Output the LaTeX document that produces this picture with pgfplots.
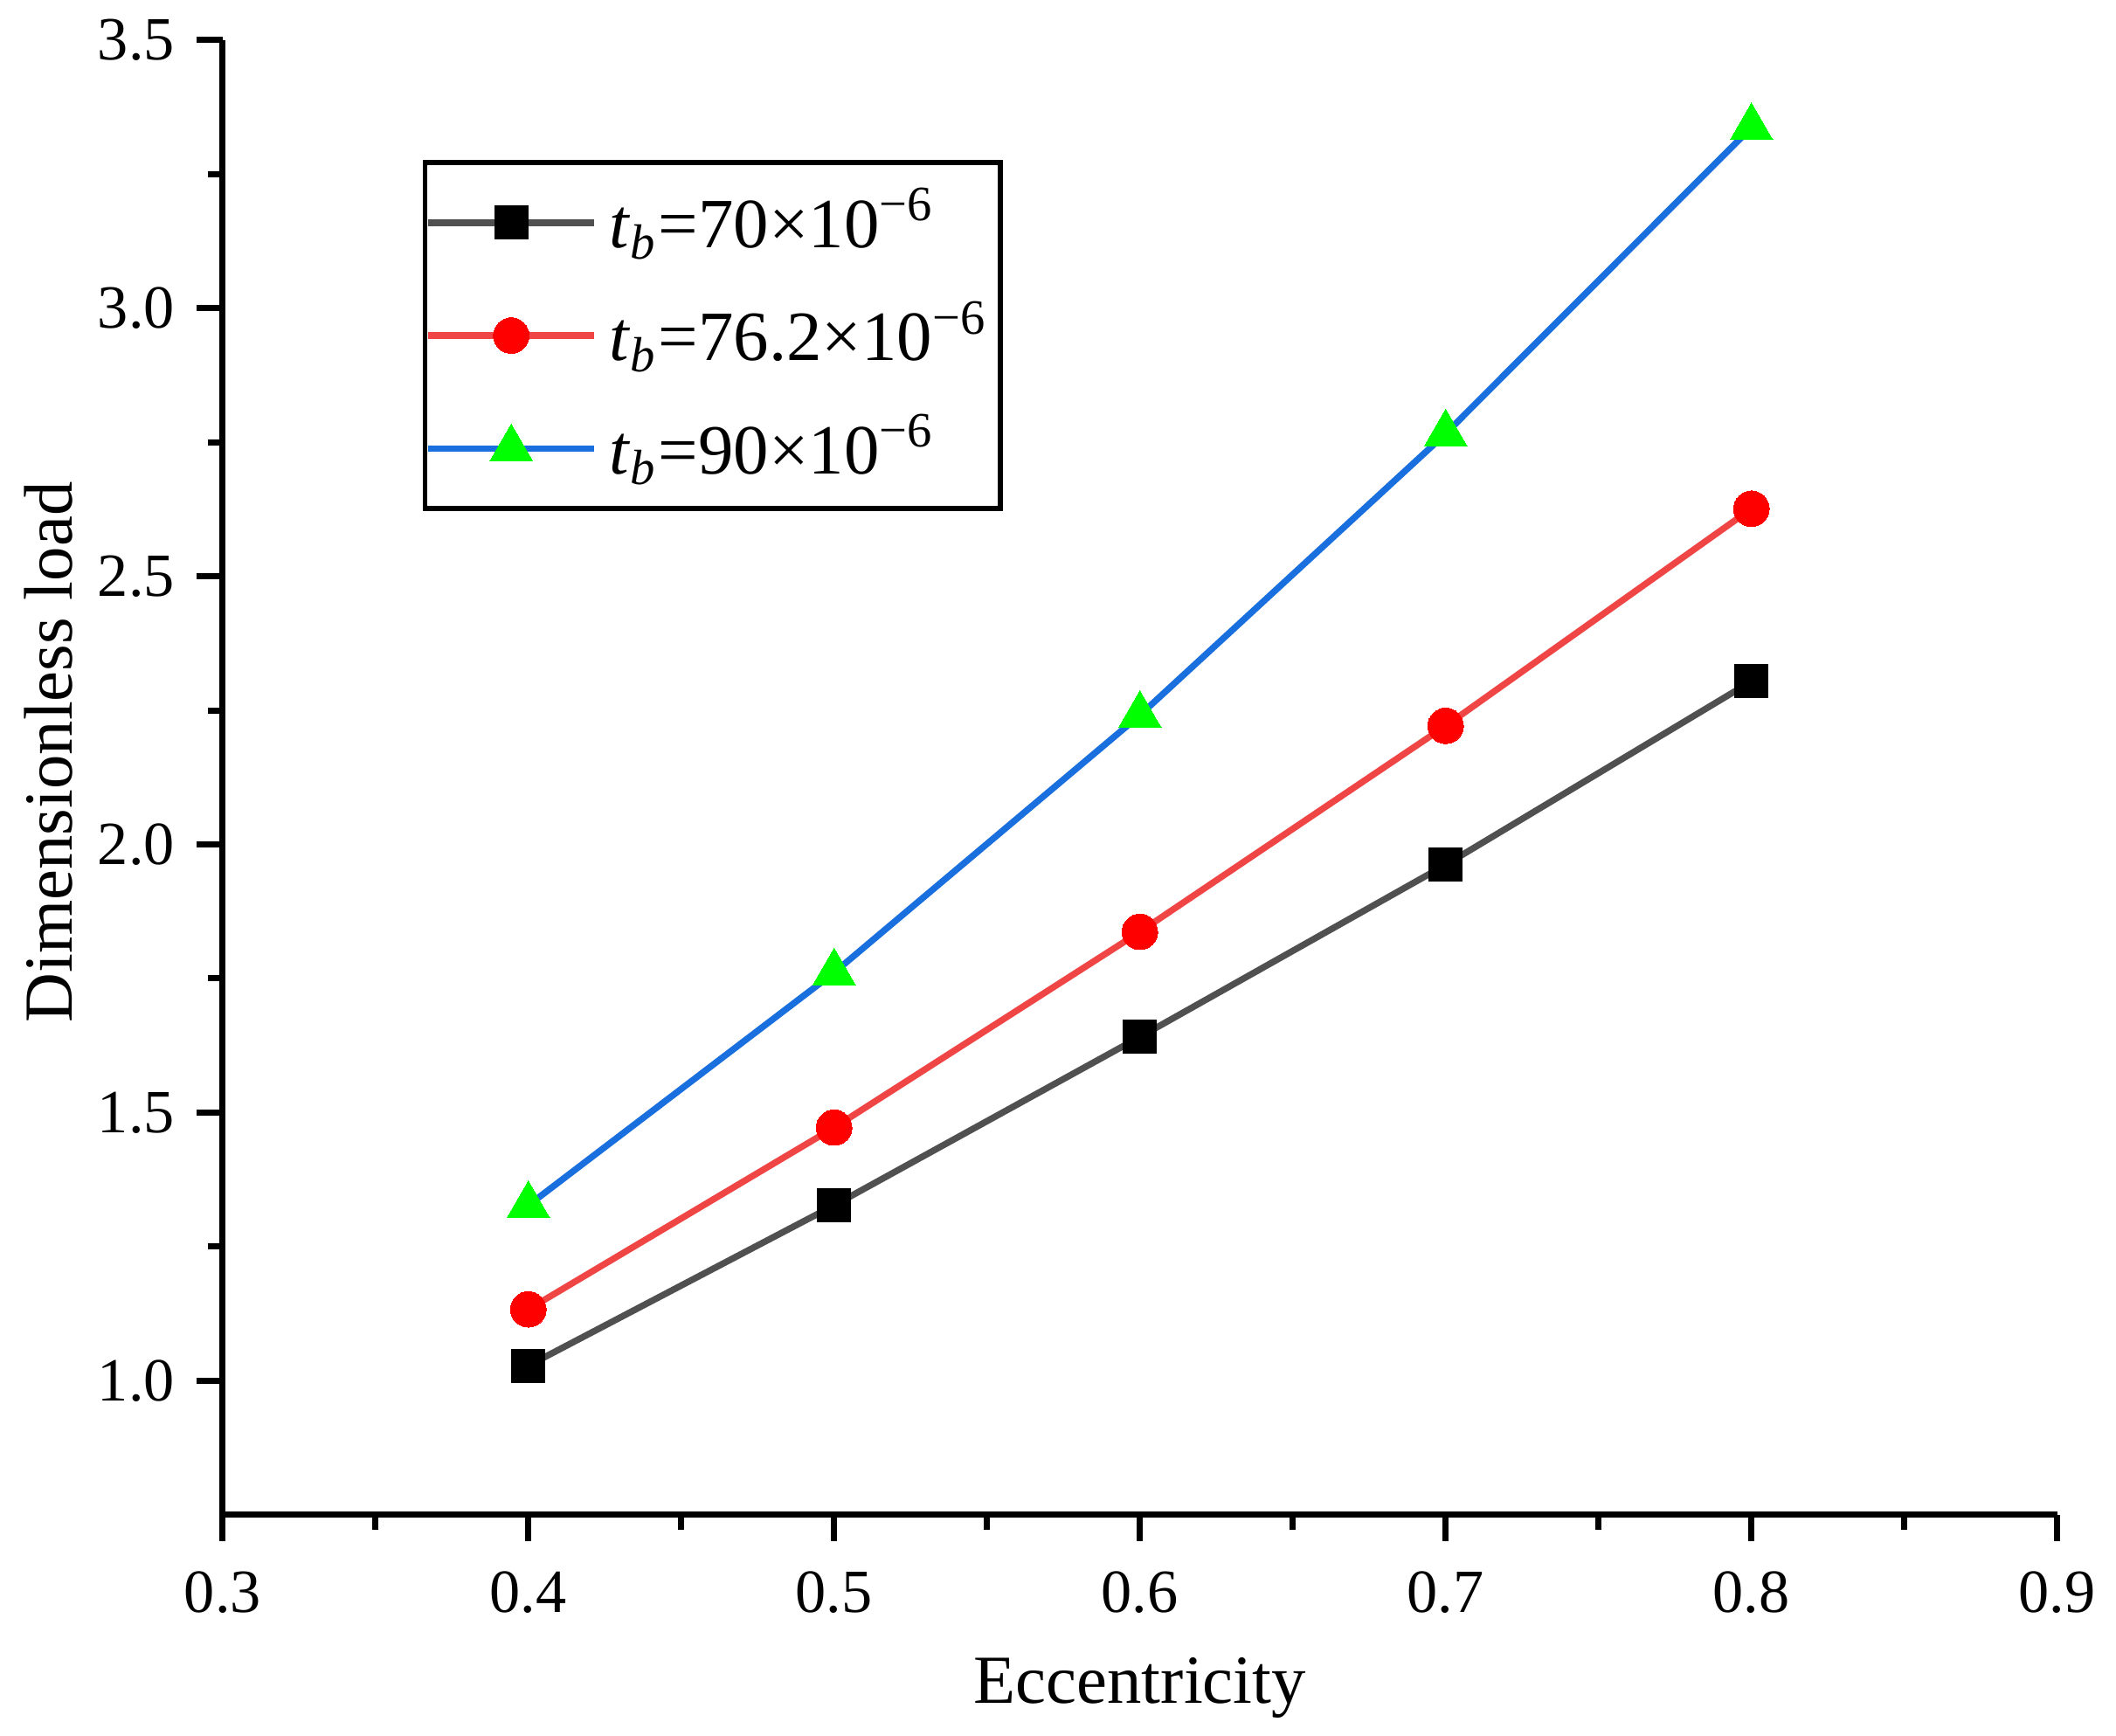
\documentclass[border=0pt]{standalone}
\usepackage{fontspec}
\setmainfont{Liberation Serif}
\usepackage{pgfplots}
\pgfplotsset{compat=1.18}
\definecolor{lgray}{HTML}{505050}
\definecolor{lred}{HTML}{F04545}
\definecolor{lblue}{HTML}{1A6FDF}
\definecolor{mgreen}{HTML}{00FF00}
\begin{document}
\begin{tikzpicture}
\path[use as bounding box] (-12.74mm,-12.66mm) rectangle (108.36mm,86.69mm);
\begin{axis}[
  scale only axis,
  width=105.0mm, height=84.4mm,
  xmin=0.3, xmax=0.9, ymin=0.75, ymax=3.5,
  axis x line=bottom, axis y line=left,
  axis line style={-, line width=1pt},
  xtick={0.3,0.4,...,0.9}, ytick={1.0,1.5,...,3.5},
  minor x tick num=1, minor y tick num=1,
  tick align=outside,
  major tick length=4.3pt, minor tick length=2.4pt,
  every tick/.style={black, line width=1pt},
  /pgf/number format/.cd, fixed, fixed zerofill, precision=1, assume math mode=true,
  /pgfplots/.cd,
  tick label style={font=\fontsize{10}{12}\selectfont},
  xticklabel style={yshift=-0.5mm},
  every axis x label/.style={at={(axis description cs:0.5,0)}, anchor=base, yshift=-10.77mm, font=\fontsize{11.2}{13}\selectfont},
  every axis y label/.style={at={(axis description cs:-0.0819,0.517)}, anchor=base, rotate=90, font=\fontsize{11.2}{13}\selectfont},
  xlabel={Eccentricity}, ylabel={Dimensionless load},
  legend style={at={(axis description cs:0.109,0.9186)}, anchor=north west,
    draw=black, line width=0.8pt, font=\fontsize{11.5}{14}\selectfont,
    row sep=3.2pt, inner xsep=0pt, inner ysep=2.2pt},
  legend cell align=left,
  legend image code/.code={\draw[mark repeat=2,mark phase=2] plot coordinates {(0mm,0mm) (4.75mm,0mm) (9.5mm,0mm)};},
]
\addplot[color=lgray, line width=1.05pt, mark=square*, mark size=2.7pt, mark options={fill=black, draw=black, line width=0pt}]
  coordinates {(0.4,1.028) (0.5,1.327) (0.6,1.641) (0.7,1.962) (0.8,2.304)};
\addlegendentry{\textit{t}\textsubscript{\textit{b}}=70×10\textsuperscript{−6}}
\addplot[color=lred, line width=1.05pt, mark=*, mark size=2.9pt, mark options={fill=red, draw=red, line width=0pt}]
  coordinates {(0.4,1.133) (0.5,1.472) (0.6,1.837) (0.7,2.221) (0.8,2.626)};
\addlegendentry{\textit{t}\textsubscript{\textit{b}}=76.2×10\textsuperscript{−6}}
\addplot[color=lblue, line width=1.05pt, mark=triangle*, mark size=4pt, mark options={fill=mgreen, draw=mgreen, line width=0pt}]
  coordinates {(0.4,1.327) (0.5,1.761) (0.6,2.241) (0.7,2.766) (0.8,3.337)};
\addlegendentry{\textit{t}\textsubscript{\textit{b}}=90×10\textsuperscript{−6}}
\end{axis}
\end{tikzpicture}
\end{document}
